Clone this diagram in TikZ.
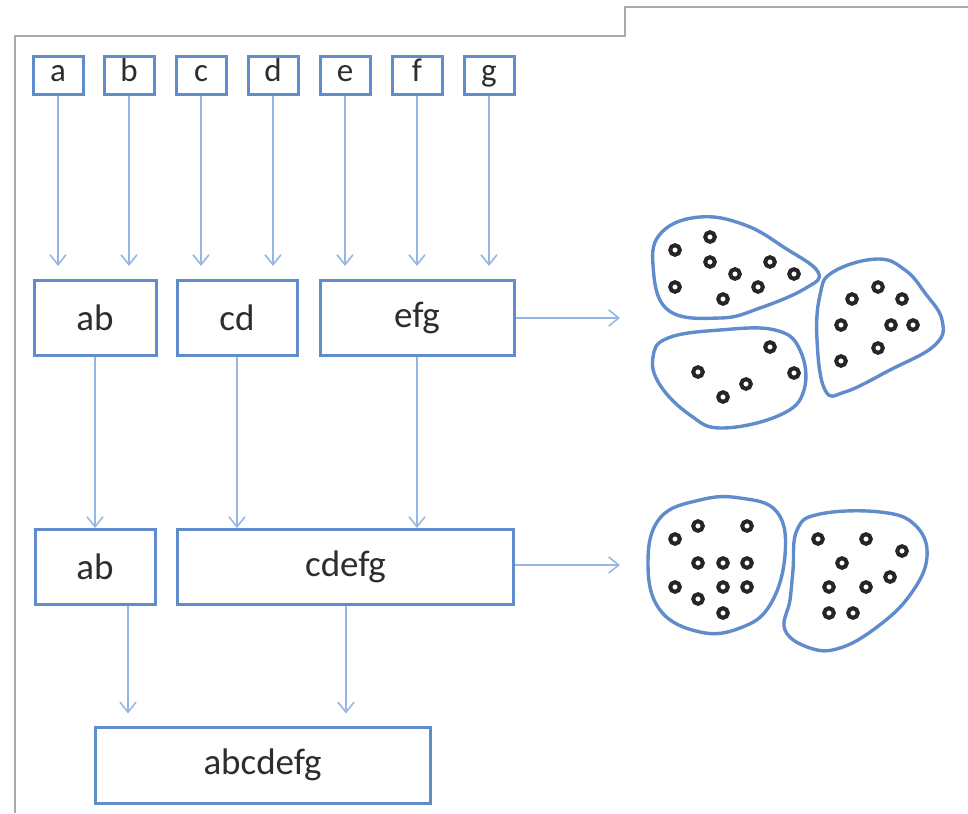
\documentclass[tikz,border=0pt]{standalone}
\usepackage{fontspec}
\setmainfont{Carlito}
\usetikzlibrary{arrows.meta}
\definecolor{boxblue}{RGB}{96,140,204}
\definecolor{arrblue}{RGB}{150,182,228}
\definecolor{txt}{RGB}{45,45,45}
\definecolor{frame}{RGB}{170,170,170}
\begin{document}
\begin{tikzpicture}[x=0.5pt,y=-0.5pt,
  bx/.style={draw=boxblue,line width=1.5pt,fill=white,inner sep=0pt,text=txt,font=\fontsize{18.5}{20}\selectfont,minimum height=37.5pt},
  sbx/.style={draw=boxblue,line width=1.5pt,fill=white,inner sep=0pt,text=txt,font=\fontsize{16.5}{18}\selectfont,minimum height=19pt,minimum width=25pt,text height=8.5pt,text depth=2.5pt},
  arr/.style={draw=arrblue,line width=0.8pt,-{Straight Barb[length=5pt,width=8pt]}},
  blob/.style={draw=boxblue,line width=1.7pt},
  dot/.style={draw=black!85,line width=2pt},
  frm/.style={draw=frame,line width=1pt}]
\useasboundingbox (0,0) rectangle (968,813);
% frame
\draw[frm] (15,813) -- (15,36) -- (625,36) -- (625,7) -- (968,7);
% small boxes
\node[sbx] (a) at (58,76) {a};
\node[sbx] (b) at (129,76) {b};
\node[sbx] (c) at (201,76) {c};
\node[sbx] (d) at (273,76) {d};
\node[sbx] (e) at (345,76) {e};
\node[sbx] (f) at (417,76) {f};
\node[sbx] (g) at (489,76) {g};
% row 2
\node[bx,minimum width=61pt] (ab1) at (95,318) {ab};
\node[bx,minimum width=60pt] (cd) at (237,318) {cd};
\node[bx,minimum width=97pt] (efg) at (417,318) {efg};
% row 3
\node[bx,minimum width=60pt] (ab2) at (95,567) {ab};
\node[bx,minimum width=168pt] (cdefg) at (345.5,567) {cdefg};
% row 4
\node[bx,minimum width=167.5pt,minimum height=38pt] (all) at (262.5,765) {abcdefg};
% arrows row1->row2
\foreach \s/\t in {a/ab1,b/ab1,c/cd,d/cd,e/efg,f/efg,g/efg}
  \draw[arr,shorten >=6.5pt] (\s.south) -- (\s.south |- \t.north);
% row2->row3
\draw[arr] (ab1.south) -- (ab1.south |- ab2.north);
\draw[arr] (cd.south) -- (cd.south |- cdefg.north);
\draw[arr] (efg.south) -- (efg.south |- cdefg.north);
% row3->row4
\coordinate (p1) at (128,605);
\coordinate (p2) at (346,605);
\draw[arr,shorten >=6pt] (p1 |- ab2.south) -- (p1 |- all.north);
\draw[arr,shorten >=6pt] (p2 |- cdefg.south) -- (p2 |- all.north);
% right arrows
\coordinate (t1) at (620,318);
\coordinate (t2) at (620,565);
\draw[arr] (efg.east) -- (t1);
\draw[arr] (cdefg.east |- t2) -- (t2);
% blobs
\draw[blob] plot[smooth cycle,tension=0.7] coordinates {(653,265) (662,232) (700,217) (745,225) (785,248) (818,272) (806,288) (760,308) (720,318) (668,310)};
\draw[blob] plot[smooth cycle,tension=0.7] coordinates {(653,357) (668,338) (720,330) (775,330) (800,350) (804,390) (780,415) (722,428) (690,415) (660,385)};
\draw[blob] plot[smooth cycle,tension=0.7] coordinates {(833,272) (877,259) (905,270) (925,293) (942,320) (935,345) (890,370) (845,392) (825,390) (817,340) (820,295)};
\draw[blob] plot[smooth cycle,tension=0.7] coordinates {(648,563) (660,518) (700,500) (740,498) (777,512) (785,555) (770,605) (740,628) (700,632) (660,610)};
\draw[blob] plot[smooth cycle,tension=0.7] coordinates {(797,530) (820,514) (880,512) (915,525) (927,557) (910,595) (877,627) (840,648) (810,648) (785,630) (790,600) (793,570)};
% dots
\foreach \p in {(675,250),(710,237),(710,262),(735,274),(770,262),(794,274),(675,287),(723,299),(758,287),
  (770,347),(698,372),(746,384),(794,373),(723,397),
  (878,287),(852,299),(902,299),(841,325),(891,325),(913,325),(841,361),(878,348),
  (675,539),(698,526),(747,526),(698,563),(723,563),(747,563),(675,587),(698,599),(723,587),(747,587),(723,613),
  (818,539),(866,539),(902,551),(842,563),(890,577),(829,587),(866,587),(829,613),(853,613)}
  \draw[dot] \p circle[radius=4.8];
\end{tikzpicture}
\end{document}
